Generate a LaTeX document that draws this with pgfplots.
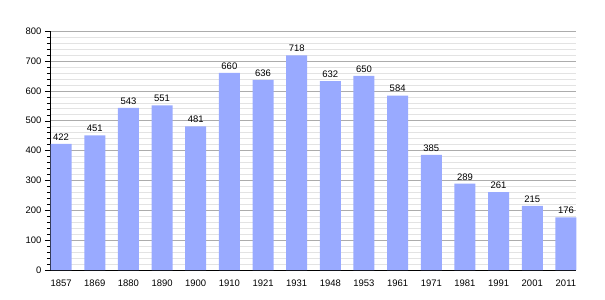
\documentclass[border=0pt]{standalone}
\usepackage{pgfplots}
\pgfplotsset{compat=1.18}
\usepackage{fontspec}
\setmainfont{Liberation Sans}
\definecolor{barblue}{RGB}{153,170,255}
\begin{document}
\begin{tikzpicture}
\useasboundingbox (-50bp,-30bp) rectangle (555bp,270bp);
\begin{axis}[
  scale only axis, width=526bp, height=239bp,
  at={(0,0)}, anchor=south west,
  xmin=-0.33, xmax=15.3, ymin=0, ymax=800,
  ybar, bar width=21bp, bar shift=0pt,
  xtick=data,
  xticklabels={1857,1869,1880,1890,1900,1910,1921,1931,1948,1953,1961,1971,1981,1991,2001,2011},
  ytick={0,100,...,800}, minor y tick num=4,
  ymajorgrids, yminorgrids,
  major grid style={gray!65},
  minor grid style={gray!22},
  axis x line*=bottom, axis y line*=left,
  axis line style={black,-, line width=0.8pt},
  tick align=outside,
  xtick style={draw=none},
  ytick style={black},
  major tick length=5bp, minor tick length=3bp,
  tick label style={font=\fontsize{9.5}{11}\selectfont},
  /pgf/number format/assume math mode=true,
  yticklabel style={/pgf/number format/1000 sep={}},
  xticklabel style={yshift=-1bp},
  nodes near coords,
  nodes near coords style={font=\fontsize{9.5}{11}\selectfont, black, /pgf/number format/1000 sep={}},
  clip=false,
]
\addplot[fill=barblue, draw=none] coordinates {
(0,422) (1,451) (2,543) (3,551) (4,481) (5,660) (6,636) (7,718)
(8,632) (9,650) (10,584) (11,385) (12,289) (13,261) (14,215) (15,176)};
\end{axis}
\end{tikzpicture}
\end{document}
